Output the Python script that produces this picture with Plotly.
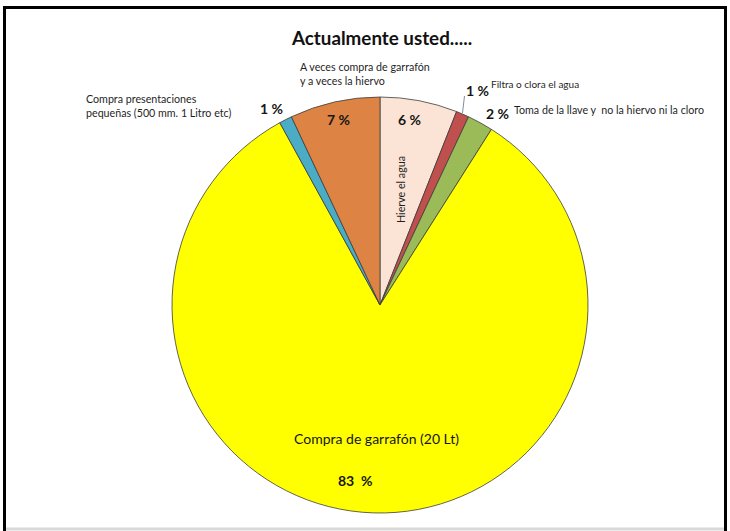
import plotly.graph_objects as go

# Survey answers, in clockwise order starting at 12 o'clock
categories = [
    "Hierve el agua",
    "Filtra o clora el agua",
    "Toma de la llave y  no la hiervo ni la cloro",
    "Compra de garrafón (20 Lt)",
    "Compra presentaciones pequeñas (500 mm. 1 Litro etc)",
    "A veces compra de garrafón y a veces la hiervo",
]
values = [6, 1, 2, 83, 1, 7]
colors = ["#FBE4D5", "#C0504D", "#9BBB59", "#FFFF00", "#4BACC6", "#DD8445"]

W, H = 730, 531
FONT = "Lato"


def px(x):
    return x / W


def py(y):
    return 1 - y / H


cx, cy, r = 380, 305, 208

fig = go.Figure(
    go.Pie(
        labels=categories,
        values=values,
        sort=False,
        direction="clockwise",
        rotation=0,
        marker=dict(colors=colors, line=dict(color="#3c3c3c", width=0.8)),
        textinfo="none",
        hoverinfo="label+percent",
        showlegend=False,
        domain=dict(x=[px(cx - r), px(cx + r)], y=[py(cy + r), py(cy - r)]),
    )
)

pct = {c: f"{v} %" for c, v in zip(categories, values)}
bold = dict(family=FONT, size=14, color="#161616")
small = dict(family=FONT, size=10.7, color="#1f1f1f")

annotations = [
    # title
    dict(x=px(382), y=py(38), text="<b>Actualmente usted.....</b>",
         font=dict(family=FONT, size=18.8, color="#111111"), xanchor="center"),
    # percentage labels
    dict(x=px(338), y=py(119), text=f"<b>{pct[categories[5]]}</b>", font=bold, xanchor="center"),
    dict(x=px(409), y=py(119), text=f"<b>{pct[categories[0]]}</b>", font=bold, xanchor="center"),
    dict(x=px(271), y=py(108), text=f"<b>{pct[categories[4]]}</b>", font=bold, xanchor="center"),
    dict(x=px(477), y=py(90), text=f"<b>{pct[categories[1]]}</b>", font=bold, xanchor="center"),
    dict(x=px(497), y=py(113), text=f"<b>{pct[categories[2]]}</b>", font=bold, xanchor="center"),
    dict(x=px(355), y=py(480), text=f"<b>{values[3]}  %</b>", font=bold, xanchor="center"),
    # category labels
    dict(x=px(298), y=py(73), text="A veces compra de garrafón<br>y a veces la hiervo",
         font=small, xanchor="left", align="left"),
    dict(x=px(84), y=py(105), text="Compra presentaciones<br>pequeñas (500 mm. 1 Litro etc)",
         font=small, xanchor="left", align="left"),
    dict(x=px(489), y=py(84), text=categories[1], font=dict(family=FONT, size=10, color="#1f1f1f"),
         xanchor="left"),
    dict(x=px(512), y=py(109), text=categories[2], font=small, xanchor="left"),
    dict(x=px(376), y=py(438), text=categories[3], font=dict(family=FONT, size=14, color="#161616"),
         xanchor="center"),
    dict(x=px(401), y=py(190), text=categories[0], font=small, textangle=-90,
         xanchor="center", yanchor="middle"),
]
for a in annotations:
    a.update(xref="paper", yref="paper", showarrow=False)
    a.setdefault("yanchor", "middle")

shapes = [
    # frame around the chart (open at the bottom edge)
    dict(type="line", x0=px(4.5), x1=px(4.5), y0=0, y1=py(6), line=dict(color="black", width=3)),
    dict(type="line", x0=px(3), x1=px(727), y0=py(7.5), y1=py(7.5), line=dict(color="black", width=3)),
    dict(type="line", x0=px(725.5), x1=px(725.5), y0=0, y1=py(6), line=dict(color="black", width=3)),
    dict(type="line", x0=px(6), x1=px(724), y0=py(529), y1=py(529), line=dict(color="#d9d9d9", width=3)),
    # leader line for the small filtered-water slice
    dict(type="line", x0=px(464.5), x1=px(462.5), y0=py(96), y1=py(113),
         line=dict(color="#7f8fa6", width=1)),
]
for s in shapes:
    s.update(xref="paper", yref="paper")

fig.update_layout(
    width=W,
    height=H,
    margin=dict(l=0, r=0, t=0, b=0),
    paper_bgcolor="white",
    plot_bgcolor="white",
    annotations=annotations,
    shapes=shapes,
)

fig.write_html("out.html")
